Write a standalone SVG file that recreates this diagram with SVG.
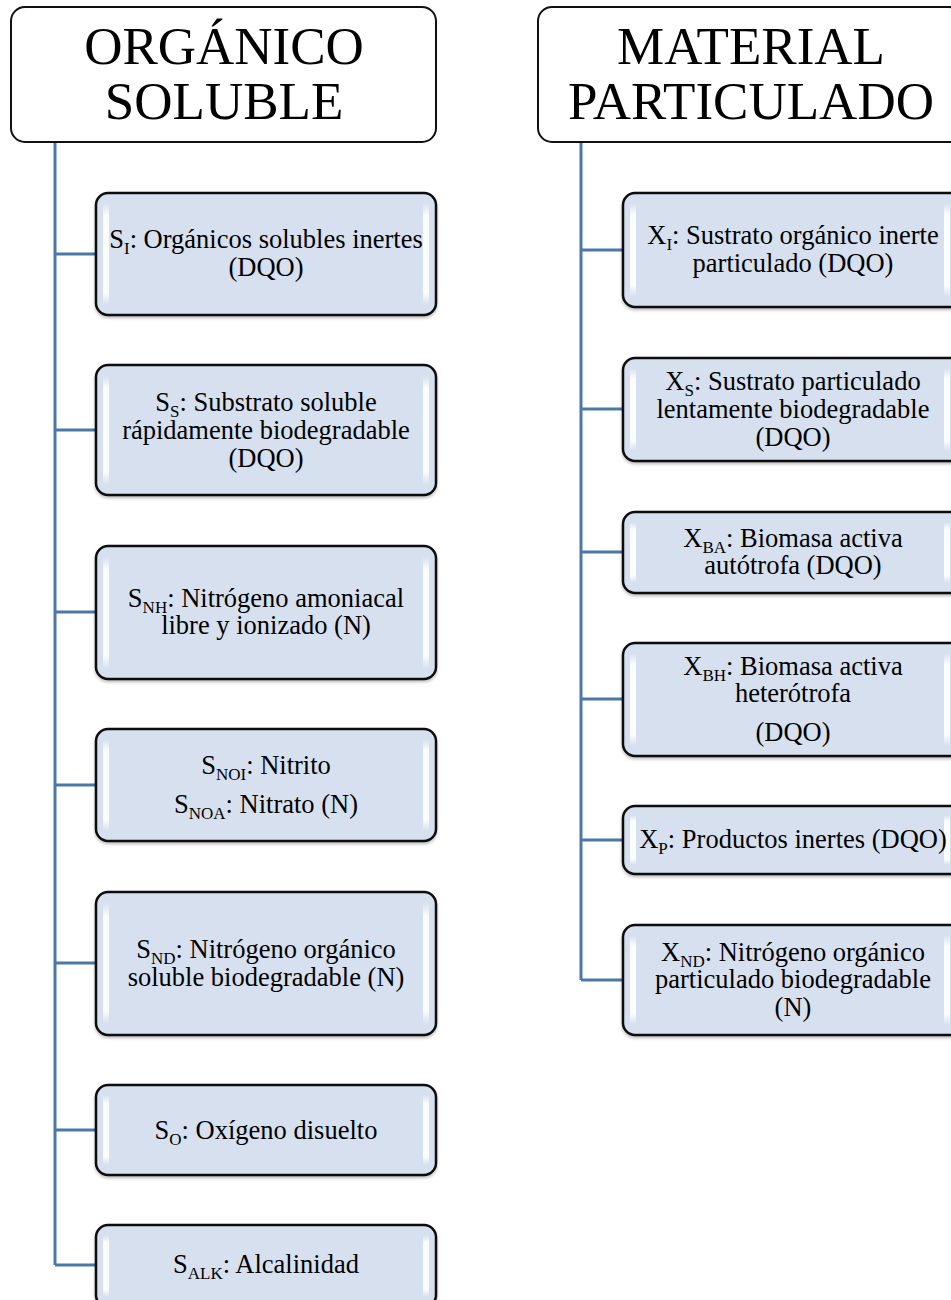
<svg xmlns="http://www.w3.org/2000/svg" width="951" height="1300" viewBox="0 0 951 1300">
  <defs>
    <style>
      .head{fill:#ffffff;stroke:#111;stroke-width:2}
      .headtxt{font-family:"Liberation Serif","Times New Roman",serif;font-size:53px;fill:#000;text-anchor:middle}
      .box{fill:#d6e0ef;stroke:#111;stroke-width:2.5}
      .glint{fill:url(#glintGrad)}
      .t{font-family:"Liberation Serif","Times New Roman",serif;font-size:26.5px;fill:#000;text-anchor:middle}
      .sub{font-size:17px}
      .link{fill:none;stroke:#4a78a8;stroke-width:3}
    </style>
    <linearGradient id="glintGrad" x1="0" y1="0" x2="0" y2="1">
      <stop offset="0" stop-color="#fff" stop-opacity="0"/>
      <stop offset="0.12" stop-color="#fff" stop-opacity="0.9"/>
      <stop offset="0.88" stop-color="#fff" stop-opacity="0.9"/>
      <stop offset="1" stop-color="#fff" stop-opacity="0"/>
    </linearGradient>
    <filter id="shadow" x="-5%" y="-5%" width="110%" height="115%">
      <feDropShadow dx="0" dy="2" stdDeviation="1.5" flood-color="#000" flood-opacity="0.25"/>
    </filter>
  </defs>

  <!-- connectors -->
  <g id="connectors" class="link">
    <path d="M55 142 V1265"/>
    <path d="M55 254 H96 M55 430 H96 M55 612 H96 M55 785 H96 M55 963 H96 M55 1130 H96 M55 1265 H96"/>
    <path d="M581 142 V980"/>
    <path d="M581 250 H623 M581 409 H623 M581 552 H623 M581 699 H623 M581 840 H623 M581 980 H623"/>
  </g>

  <!-- column headers -->
  <g id="head-soluble">
    <rect class="head" x="11" y="7" width="425" height="135" rx="14"/>
    <text class="headtxt" x="224" y="64">ORGÁNICO</text>
    <text class="headtxt" x="224" y="119">SOLUBLE</text>
  </g>
  <g id="head-particulado">
    <rect class="head" x="538" y="7" width="425" height="135" rx="14"/>
    <text class="headtxt" x="751" y="64">MATERIAL</text>
    <text class="headtxt" x="751" y="119">PARTICULADO</text>
  </g>

  <!-- soluble components -->
  <g id="s-i">
    <rect class="box" x="96" y="193" width="340" height="122" rx="12" filter="url(#shadow)"/>
    <rect class="glint" x="103" y="203" width="6" height="102" rx="3"/>
    <rect class="glint" x="423" y="203" width="6" height="102" rx="3"/>
    <text class="t" x="266" y="248">S<tspan class="sub" dy="6">I</tspan><tspan dy="-6">: Orgánicos solubles inertes</tspan></text>
    <text class="t" x="266" y="276">(DQO)</text>
  </g>
  <g id="s-s">
    <rect class="box" x="96" y="365" width="340" height="130" rx="12" filter="url(#shadow)"/>
    <rect class="glint" x="103" y="375" width="6" height="110" rx="3"/>
    <rect class="glint" x="423" y="375" width="6" height="110" rx="3"/>
    <text class="t" x="266" y="411">S<tspan class="sub" dy="6">S</tspan><tspan dy="-6">: Substrato soluble</tspan></text>
    <text class="t" x="266" y="439">rápidamente biodegradable</text>
    <text class="t" x="266" y="467">(DQO)</text>
  </g>
  <g id="s-nh">
    <rect class="box" x="96" y="546" width="340" height="133" rx="12" filter="url(#shadow)"/>
    <rect class="glint" x="103" y="556" width="6" height="113" rx="3"/>
    <rect class="glint" x="423" y="556" width="6" height="113" rx="3"/>
    <text class="t" x="266" y="607">S<tspan class="sub" dy="6">NH</tspan><tspan dy="-6">: Nitrógeno amoniacal</tspan></text>
    <text class="t" x="266" y="634">libre y ionizado (N)</text>
  </g>
  <g id="s-no">
    <rect class="box" x="96" y="729" width="340" height="112" rx="12" filter="url(#shadow)"/>
    <rect class="glint" x="103" y="739" width="6" height="92" rx="3"/>
    <rect class="glint" x="423" y="739" width="6" height="92" rx="3"/>
    <text class="t" x="266" y="774">S<tspan class="sub" dy="6">NOI</tspan><tspan dy="-6">: Nitrito</tspan></text>
    <text class="t" x="266" y="813">S<tspan class="sub" dy="6">NOA</tspan><tspan dy="-6">: Nitrato (N)</tspan></text>
  </g>
  <g id="s-nd">
    <rect class="box" x="96" y="892" width="340" height="143" rx="12" filter="url(#shadow)"/>
    <rect class="glint" x="103" y="902" width="6" height="123" rx="3"/>
    <rect class="glint" x="423" y="902" width="6" height="123" rx="3"/>
    <text class="t" x="266" y="958">S<tspan class="sub" dy="6">ND</tspan><tspan dy="-6">: Nitrógeno orgánico</tspan></text>
    <text class="t" x="266" y="986">soluble biodegradable (N)</text>
  </g>
  <g id="s-o">
    <rect class="box" x="96" y="1085" width="340" height="90" rx="12" filter="url(#shadow)"/>
    <rect class="glint" x="103" y="1095" width="6" height="70" rx="3"/>
    <rect class="glint" x="423" y="1095" width="6" height="70" rx="3"/>
    <text class="t" x="266" y="1139">S<tspan class="sub" dy="6">O</tspan><tspan dy="-6">: Oxígeno disuelto</tspan></text>
  </g>
  <g id="s-alk">
    <rect class="box" x="96" y="1225" width="340" height="82" rx="12" filter="url(#shadow)"/>
    <rect class="glint" x="103" y="1235" width="6" height="62" rx="3"/>
    <rect class="glint" x="423" y="1235" width="6" height="62" rx="3"/>
    <text class="t" x="266" y="1273">S<tspan class="sub" dy="6">ALK</tspan><tspan dy="-6">: Alcalinidad</tspan></text>
  </g>

  <!-- particulate components -->
  <g id="x-i">
    <rect class="box" x="623" y="193" width="340" height="114" rx="12" filter="url(#shadow)"/>
    <rect class="glint" x="630" y="203" width="6" height="94" rx="3"/>
    <rect class="glint" x="944" y="203" width="6" height="94" rx="3"/>
    <text class="t" x="793" y="244">X<tspan class="sub" dy="6">I</tspan><tspan dy="-6">: Sustrato orgánico inerte</tspan></text>
    <text class="t" x="793" y="272">particulado (DQO)</text>
  </g>
  <g id="x-s">
    <rect class="box" x="623" y="358" width="340" height="103" rx="12" filter="url(#shadow)"/>
    <rect class="glint" x="630" y="368" width="6" height="83" rx="3"/>
    <rect class="glint" x="944" y="368" width="6" height="83" rx="3"/>
    <text class="t" x="793" y="390">X<tspan class="sub" dy="6">S</tspan><tspan dy="-6">: Sustrato particulado</tspan></text>
    <text class="t" x="793" y="418">lentamente biodegradable</text>
    <text class="t" x="793" y="446">(DQO)</text>
  </g>
  <g id="x-ba">
    <rect class="box" x="623" y="512" width="340" height="81" rx="12" filter="url(#shadow)"/>
    <rect class="glint" x="630" y="522" width="6" height="61" rx="3"/>
    <rect class="glint" x="944" y="522" width="6" height="61" rx="3"/>
    <text class="t" x="793" y="547">X<tspan class="sub" dy="6">BA</tspan><tspan dy="-6">: Biomasa activa</tspan></text>
    <text class="t" x="793" y="574">autótrofa (DQO)</text>
  </g>
  <g id="x-bh">
    <rect class="box" x="623" y="643" width="340" height="113" rx="12" filter="url(#shadow)"/>
    <rect class="glint" x="630" y="653" width="6" height="93" rx="3"/>
    <rect class="glint" x="944" y="653" width="6" height="93" rx="3"/>
    <text class="t" x="793" y="675">X<tspan class="sub" dy="6">BH</tspan><tspan dy="-6">: Biomasa activa</tspan></text>
    <text class="t" x="793" y="702">heterótrofa</text>
    <text class="t" x="793" y="741">(DQO)</text>
  </g>
  <g id="x-p">
    <rect class="box" x="623" y="806" width="340" height="68" rx="12" filter="url(#shadow)"/>
    <rect class="glint" x="630" y="815" width="6" height="50" rx="3"/>
    <rect class="glint" x="944" y="815" width="6" height="50" rx="3"/>
    <text class="t" x="793" y="848">X<tspan class="sub" dy="6">P</tspan><tspan dy="-6">: Productos inertes (DQO)</tspan></text>
  </g>
  <g id="x-nd">
    <rect class="box" x="623" y="925" width="340" height="110" rx="12" filter="url(#shadow)"/>
    <rect class="glint" x="630" y="935" width="6" height="90" rx="3"/>
    <rect class="glint" x="944" y="935" width="6" height="90" rx="3"/>
    <text class="t" x="793" y="961">X<tspan class="sub" dy="6">ND</tspan><tspan dy="-6">: Nitrógeno orgánico</tspan></text>
    <text class="t" x="793" y="988">particulado biodegradable</text>
    <text class="t" x="793" y="1016">(N)</text>
  </g>
</svg>
